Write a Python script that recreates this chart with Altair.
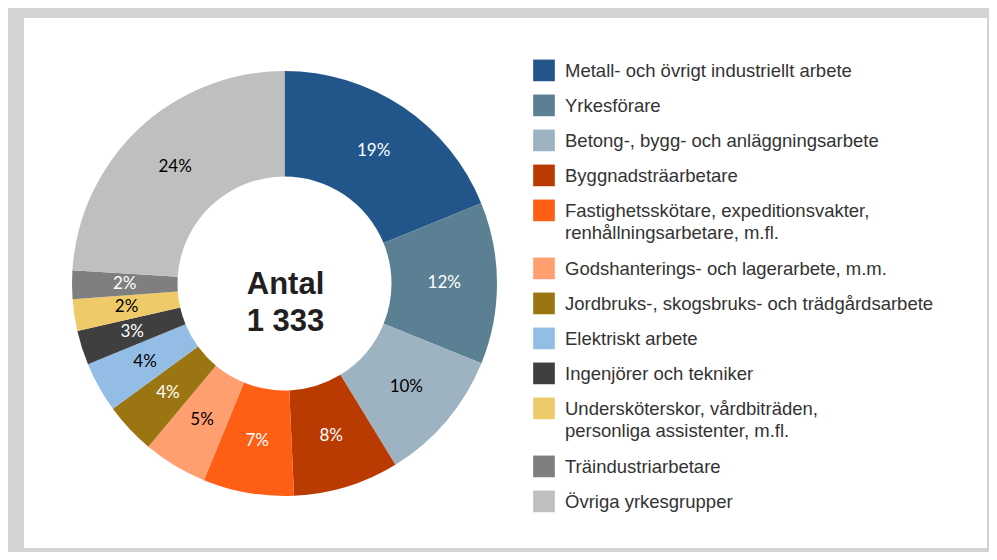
import altair as alt
import pandas as pd

categories = [
    "Metall- och övrigt industriellt arbete",
    "Yrkesförare",
    "Betong-, bygg- och anläggningsarbete",
    "Byggnadsträarbetare",
    "Fastighetsskötare, expeditionsvakter,\nrenhållningsarbetare, m.fl.",
    "Godshanterings- och lagerarbete, m.m.",
    "Jordbruks-, skogsbruks- och trädgårdsarbete",
    "Elektriskt arbete",
    "Ingenjörer och tekniker",
    "Undersköterskor, vårdbiträden,\npersonliga assistenter, m.fl.",
    "Träindustriarbetare",
    "Övriga yrkesgrupper",
]
counts = [251, 164, 135, 107, 92, 65, 52, 51, 35, 32, 29, 320]
colors = [
    "#22568b", "#5b7f93", "#9db3c2", "#b93b02", "#fe5f15", "#ff9f70",
    "#9b7511", "#94bde6", "#3f3f3f", "#eecb68", "#7f7f7f", "#bfbfbf",
]
label_colors = [
    "#ffffff", "#ffffff", "#000000", "#ffffff", "#ffffff", "#000000",
    "#ffffff", "#000000", "#ffffff", "#000000", "#ffffff", "#000000",
]
center_lines = ["Antal", "1 333"]

# legend row offsets (pixels): 35 per entry plus 23 per extra text line
pos = []
acc = 0
for c in categories:
    pos.append(acc)
    acc += 35 + 23 * (c.count("\n"))

df = pd.DataFrame({
    "cat": categories,
    "n": counts,
    "idx": list(range(len(categories))),
    "lblcol": label_colors,
    "pos": pos,
})

CX, CY = 260.5, 265.5
R_OUT, R_IN = 212.5, 107

color = alt.Color("cat:N", scale=alt.Scale(domain=categories, range=colors), legend=None)
base = alt.Chart(df)

arcs = base.mark_arc(outerRadius=R_OUT, innerRadius=R_IN, stroke=None).encode(
    theta=alt.Theta("n:Q", stack=True),
    order=alt.Order("idx:Q"),
    color=color,
    x=alt.value(CX), y=alt.value(CY),
)

labels = base.transform_joinaggregate(total="sum(n)").transform_calculate(
    pct="format(round(datum.n / datum.total * 100), 'd') + '%'"
).mark_text(radius=(R_OUT + R_IN) / 2, font="Lato", fontSize=17, align="center", baseline="middle").encode(
    theta=alt.Theta("n:Q", stack=True),
    order=alt.Order("idx:Q"),
    text="pct:N",
    color=alt.Color("lblcol:N", scale=None),
    x=alt.value(CX), y=alt.value(CY),
)

center = alt.Chart(pd.DataFrame({"t": ["\n".join(center_lines)]})).mark_text(
    font="Liberation Sans", fontWeight="bold", fontSize=31, lineBreak="\n", lineHeight=37,
    align="center", baseline="middle", color="#231f20",
).encode(text="t:N", x=alt.value(CX + 1), y=alt.value(CY + 1))

yscale = alt.Scale(domain=[0, 100], range=[52.4, 152.4], nice=False, zero=False)

leg_sq = base.mark_point(shape="square", filled=True, size=470, opacity=1).encode(
    x=alt.value(520),
    y=alt.Y("pos:Q", scale=yscale, axis=None),
    color=color,
)

leg_txt = base.mark_text(
    font="Liberation Sans", fontSize=18.5, lineBreak="\n", lineHeight=22,
    align="left", baseline="alphabetic", dy=6.6, color="#333333",
).encode(
    x=alt.value(541),
    y=alt.Y("pos:Q", scale=yscale, axis=None),
    text="cat:N",
)

chart = alt.layer(arcs, labels, center, leg_sq, leg_txt).properties(
    width=963, height=530,
    padding={"left": 16, "top": 10, "right": 2, "bottom": 4},
    autosize=alt.AutoSizeParams(type="none"),
).configure(background="#d1d3d5").configure_view(fill="white", stroke=None)

chart.save("out.html", embed_options={"renderer": "svg", "actions": False})
